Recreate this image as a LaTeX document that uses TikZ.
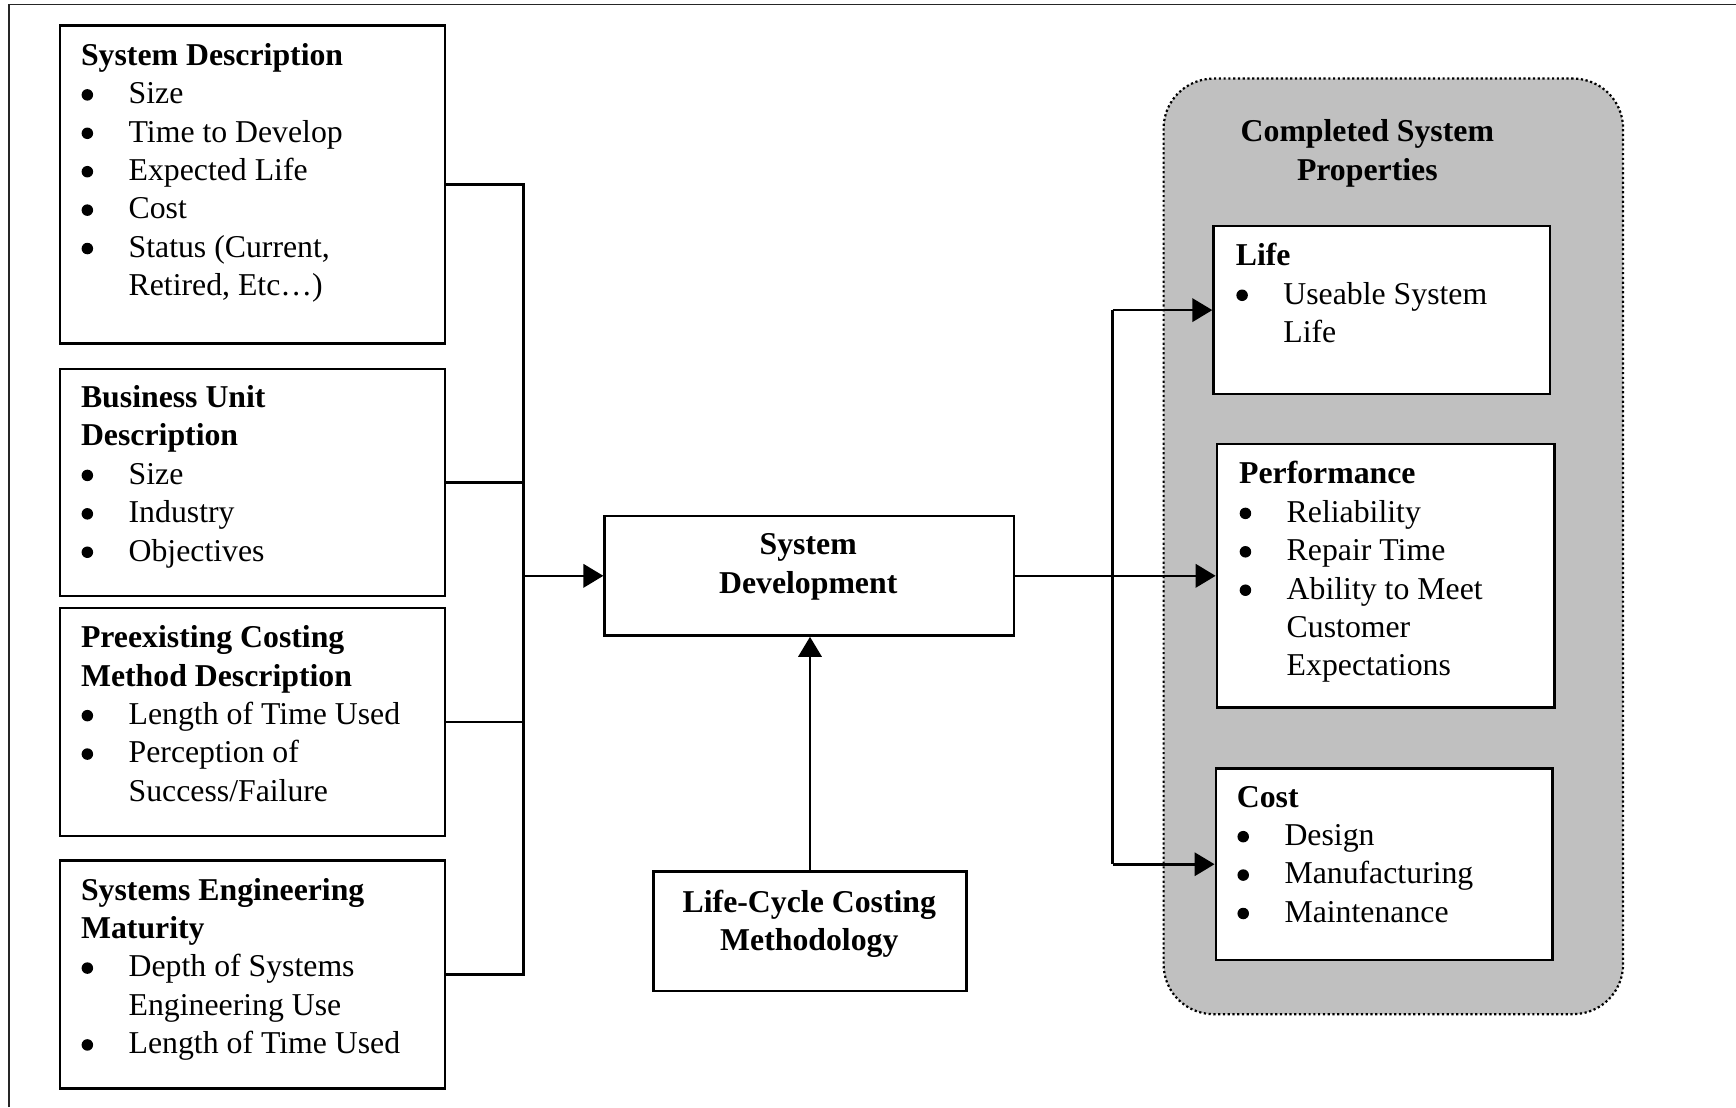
\documentclass[tikz,border=0pt]{standalone}
\usepackage{fontspec}
\setmainfont{Liberation Serif}
\usetikzlibrary{arrows.meta}
\definecolor{panel}{RGB}{192,192,192}
\newcommand\fs{\fontsize{28.7pt}{34.7pt}\selectfont}
\newcommand\bdot{\raisebox{2.8pt}{\tikz\fill (0,0) circle[radius=5.2pt];}}
\newcommand\bi{\makebox[43pt][l]{\hspace*{0.5pt}\bdot}}
\newcommand\ci{\hspace*{43pt}}
\tikzset{
  box/.style={draw=black, line width=2.2pt, fill=white, anchor=north west, inner sep=0pt},
  panelbox/.style={draw=black, line width=2pt, dash pattern=on 2pt off 2.3pt, fill=panel,
    rounded corners=45pt, anchor=north west, inner sep=0pt},
  txt/.style={inner sep=0pt, anchor=base west, font=\fs},
  ctxt/.style={inner sep=0pt, anchor=base, font=\fs},
  conn/.style={draw=black, line width=2.3pt},
  arr/.style={conn, -{Triangle[length=18pt, width=21pt]}},
  frame/.style={draw=black!85, line width=1.6pt}
}
\begin{document}
\begin{tikzpicture}[x=1pt, y=-1pt]
\useasboundingbox (0,0) rectangle (1568,1000);
\draw[frame] (8,1000) -- (8,4) -- (1568,4);

% left boxes
\node[box, minimum width=348pt, minimum height=287pt] (sd) at (53,22) {};
\node[box, minimum width=348pt, minimum height=205pt] (bu) at (53,332) {};
\node[box, minimum width=348pt, minimum height=206pt] (pe) at (53,548) {};
\node[box, minimum width=348pt, minimum height=206pt] (se) at (53,776) {};

\node[txt] (sdt) at (73,59) {\begin{tabular}[t]{@{}l@{}}
\textbf{System Description}\\
\bi Size\\
\bi Time to Develop\\
\bi Expected Life\\
\bi Cost\\
\bi Status (Current,\\
\ci Retired, Etc…)
\end{tabular}};
\node[txt] (but) at (73,368) {\begin{tabular}[t]{@{}l@{}}
\textbf{Business Unit}\\
\textbf{Description}\\
\bi Size\\
\bi Industry\\
\bi Objectives
\end{tabular}};
\node[txt] (pet) at (73,585) {\begin{tabular}[t]{@{}l@{}}
\textbf{Preexisting Costing}\\
\textbf{Method Description}\\
\bi Length of Time Used\\
\bi Perception of\\
\ci Success/Failure
\end{tabular}};
\node[txt] (set) at (73,813) {\begin{tabular}[t]{@{}l@{}}
\textbf{Systems Engineering}\\
\textbf{Maturity}\\
\bi Depth of Systems\\
\ci Engineering Use\\
\bi Length of Time Used
\end{tabular}};

% centre boxes
\node[box, minimum width=370pt, minimum height=108pt] (sdev) at (545,465) {};
\node[ctxt] (sdevt) at (730,501) {\begin{tabular}[t]{@{}c@{}}
\textbf{System}\\ \textbf{Development}\end{tabular}};
\node[box, minimum width=283pt, minimum height=108pt] (lcc) at (589,786) {};
\node[ctxt] (lcct) at (731,824) {\begin{tabular}[t]{@{}c@{}}
\textbf{Life-Cycle Costing}\\ \textbf{Methodology}\end{tabular}};

% right panel
\node[panelbox, minimum width=415pt, minimum height=845pt] (cs) at (1050,70) {};
\node[ctxt] (cst) at (1235,128) {\begin{tabular}[t]{@{}c@{}}
\textbf{Completed System}\\ \textbf{Properties}\end{tabular}};
\node[box, minimum width=304pt, minimum height=152pt] (life) at (1095,203) {};
\node[box, minimum width=305pt, minimum height=238pt] (perf) at (1098,400) {};
\node[box, minimum width=304pt, minimum height=173pt] (cost) at (1097,693) {};
\node[txt] (lifet) at (1116,240) {\begin{tabular}[t]{@{}l@{}}
\textbf{Life}\\
\bi Useable System\\
\ci Life
\end{tabular}};
\node[txt] (perft) at (1119,437) {\begin{tabular}[t]{@{}l@{}}
\textbf{Performance}\\
\bi Reliability\\
\bi Repair Time\\
\bi Ability to Meet\\
\ci Customer\\
\ci Expectations
\end{tabular}};
\node[txt] (costt) at (1117,729) {\begin{tabular}[t]{@{}l@{}}
\textbf{Cost}\\
\bi Design\\
\bi Manufacturing\\
\bi Maintenance
\end{tabular}};

% connectors
\coordinate (bx) at (473,0);
\coordinate (rx) at (1005,0);
\draw[conn] (sd.east) -| (bx |- se.east) -- (se.east);
\draw[conn] (bu.east) -- (bu.east -| bx);
\draw[conn] (pe.east) -- (pe.east -| bx);
\draw[arr] (sdev.west -| bx) -- (sdev.west);
\draw[arr] (lcc.north) -- (lcc.north |- sdev.south);
\draw[arr] (sdev.east) -- (perf.west);
\draw[conn] (rx |- life.west) -- (rx |- cost.west);
\draw[arr] (rx |- life.west) -- (life.west);
\draw[arr] (rx |- cost.west) -- (cost.west);
\end{tikzpicture}
\end{document}
